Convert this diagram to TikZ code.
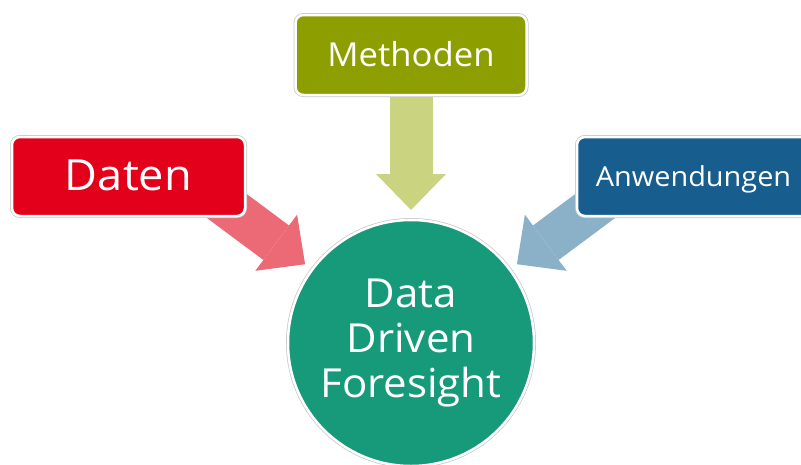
\documentclass[tikz,border=0pt]{standalone}
\usepackage{fontspec}
\setmainfont{Open Sans}[FakeStretch=1.05]
\usepackage{tikz}
\usetikzlibrary{shapes,arrows.meta,calc,backgrounds}

\definecolor{methgreen}{RGB}{141,158,0}
\definecolor{methlight}{RGB}{201,211,128}
\definecolor{datred}{RGB}{226,0,26}
\definecolor{datlight}{RGB}{236,105,118}
\definecolor{anwblue}{RGB}{23,94,142}
\definecolor{anwlight}{RGB}{139,177,201}
\definecolor{ddfgreen}{RGB}{23,154,122}

\begin{document}
\begin{tikzpicture}[x=1pt,y=-1pt,
    rim/.style={draw=white, line width=2.5pt, preaction={draw=black!22, line width=4pt}},
    box/.style={rim, rounded corners=8pt, minimum width=233pt, minimum height=79pt,
      inner sep=0pt, text=white, text depth=0.25em},
    fat/.style={line width=43pt, -{Triangle[width=70pt,length=36pt,line width=0pt]}}]
  \useasboundingbox (0,0) rectangle (801,464);

  % the three sources
  \node[box, fill=methgreen, minimum width=231pt, minimum height=80pt] (meth) at (411,55)
    {\fontsize{33}{36}\selectfont Methoden};
  \node[box, fill=datred] (dat) at (128.5,176.5)
    {\fontsize{43}{48}\selectfont Daten};
  \node[box, fill=anwblue, text depth=0pt] (anw) at (693.5,176.5)
    {\fontsize{27.5}{30}\selectfont Anwendungen};

  % centre
  \node[circle, rim, fill=ddfgreen, minimum size=246pt, outer sep=0pt, inner sep=0pt,
    align=center, text=white, font=\fontsize{40}{45}\selectfont] (ddf) at (411,343)
    {Data\\Driven\\Foresight};

  \begin{pgfonlayer}{background}
    \draw[fat, methlight, shorten >=10pt] (meth.center) -- (ddf);
    \draw[fat, datlight, shorten >=9pt] ($(dat.east)+(-47,9)$) -- (ddf);
    \draw[fat, anwlight, shorten >=9pt] ($(anw.west)+(47,9)$) -- (ddf);
  \end{pgfonlayer}
\end{tikzpicture}
\end{document}
